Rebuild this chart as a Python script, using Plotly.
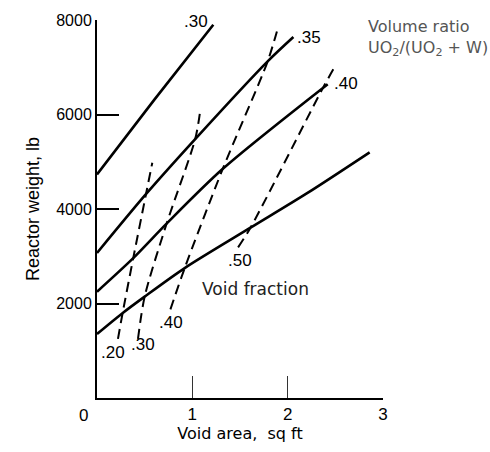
import plotly.graph_objects as go

# Volume ratio curves (solid): void area (sq ft) vs reactor weight (lb)
ratio_labels = [".30", ".35", ".40", ".50"]
x_r30 = [0.0, 0.6, 1.22]
y_r30 = [4730, 6310, 7900]
x_r35 = [0.0, 0.52, 1.03, 1.79, 2.06]
y_r35 = [3070, 4330, 5480, 7125, 7640]
x_r40 = [0.0, 0.38, 0.73, 1.32, 2.42]
y_r40 = [2250, 2960, 3690, 4850, 6640]
x_r50 = [0.0, 0.27, 0.50, 0.92, 1.61, 2.2, 2.86]
y_r50 = [1354, 1800, 2146, 2750, 3604, 4330, 5200]

# Void fraction curves (dashed)
void_labels = [".20", ".30", ".40", ".50"]
x_v20 = [0.22, 0.27, 0.38, 0.52, 0.58]
y_v20 = [1250, 1813, 2958, 4375, 4980]
x_v30 = [0.43, 0.50, 0.73, 1.03, 1.08]
y_v30 = [1250, 2146, 3688, 5479, 6040]
x_v40 = [0.77, 0.92, 1.32, 1.79, 1.90]
y_v40 = [1875, 2750, 4854, 7125, 7850]
x_v50 = [1.48, 1.61, 2.37, 2.48]
y_v50 = [3188, 3604, 6563, 6960]

x_ticks = [1, 2, 3]
y_ticks = [2000, 4000, 6000, 8000]

FONT = "Liberation Sans, Arial, sans-serif"
FONT2 = "DejaVu Sans, sans-serif"

fig = go.Figure()
for xs, ys in [(x_r30, y_r30), (x_r35, y_r35), (x_r40, y_r40), (x_r50, y_r50)]:
    fig.add_trace(go.Scatter(x=xs, y=ys, mode="lines",
                             line=dict(color="black", width=2.6, shape="spline", smoothing=0.8),
                             showlegend=False, hoverinfo="skip", cliponaxis=False))
for xs, ys in [(x_v20, y_v20), (x_v30, y_v30), (x_v40, y_v40), (x_v50, y_v50)]:
    fig.add_trace(go.Scatter(x=xs, y=ys, mode="lines",
                             line=dict(color="black", width=2, dash="10px,6px", shape="spline", smoothing=0.8),
                             showlegend=False, hoverinfo="skip", cliponaxis=False))

def px2x(px):
    return (px - 97) / 95.33

def py2y(py):
    return (400 - py) * 8000 / 384

annots = []
for lab, (px, py) in zip(ratio_labels, [(196, 18), (309, 34), (346, 80), (386, 152)]):
    annots.append(dict(x=px2x(px), y=py2y(py), text=lab, showarrow=False, xref="x", yref="y",
                       font=dict(size=17, color="black", family=FONT)))
for lab, (px, py) in zip(void_labels, [(113, 354), (143, 346), (171, 323), (240, 260)]):
    annots.append(dict(x=px2x(px), y=py2y(py), text=lab, showarrow=False, xref="x", yref="y",
                       font=dict(size=17, color="black", family=FONT)))
annots.append(dict(x=px2x(255), y=py2y(289), text="Void fraction", showarrow=False, xref="x", yref="y",
                   font=dict(size=17, color="#222", family=FONT2)))
annots.append(dict(x=px2x(366), y=py2y(23), text="Volume ratio", showarrow=False, xref="x", yref="y",
                   xanchor="left", font=dict(size=16, color="#555", family=FONT2)))
annots.append(dict(x=px2x(366), y=py2y(45), text="UO<sub>2</sub>/(UO<sub>2</sub> + W)", showarrow=False,
                   xref="x", yref="y", xanchor="left", font=dict(size=16, color="#555", family=FONT2)))
annots.append(dict(x=0, y=0, text="0", showarrow=False, xref="x", yref="y", xshift=-14, yshift=-17,
                   font=dict(size=17, color="black", family=FONT)))

fig.update_layout(
    width=490, height=452,
    margin=dict(l=97, r=107, t=16, b=52),
    paper_bgcolor="white", plot_bgcolor="white",
    font=dict(family=FONT, size=17, color="black"),
    annotations=annots,
    xaxis=dict(range=[0, 3], tickvals=x_ticks, ticks="inside", ticklen=22, tickwidth=1, tickcolor="#333",
               showline=True, linecolor="black", linewidth=2, showgrid=False, zeroline=False,
               title=dict(text="Void area,  sq ft", font=dict(size=16, family=FONT2), standoff=4),
               tickfont=dict(size=17)),
    yaxis=dict(range=[0, 8000], tickvals=y_ticks, ticks="inside", ticklen=22, tickwidth=1.5, tickcolor="black",
               showline=True, linecolor="black", linewidth=2, showgrid=False, zeroline=False,
               title=dict(text="Reactor weight, lb", font=dict(size=18), standoff=12),
               tickfont=dict(size=16)),
)

fig.write_html("out.html")
